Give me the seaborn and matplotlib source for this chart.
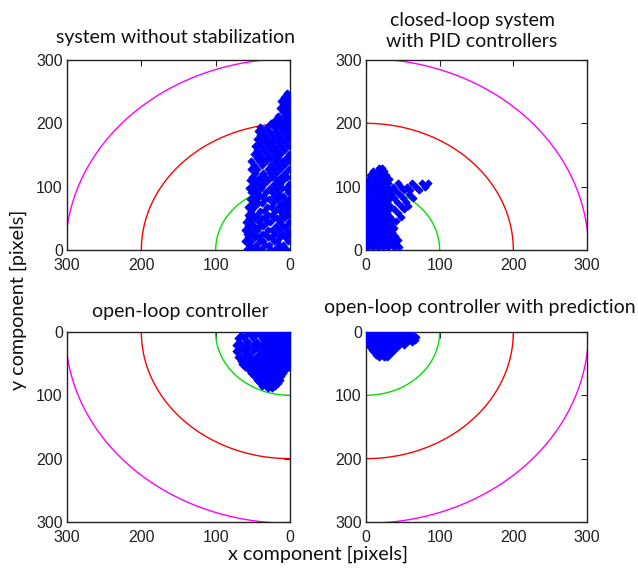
import numpy as np
import pandas as pd
import matplotlib
matplotlib.use("Agg")
import matplotlib.pyplot as plt
import seaborn as sns

# ---------------- data ----------------
radii = [100, 200, 302]
circle_colors = ["#00e000", "#ff0000", "#ff00ff"]

# top-left: system without stabilization (y value -> list of x values)
tl_rows = {
    248: [4], 242: [8, 2], 236: [5, 12], 230: [9, 1], 224: [14, 6], 218: [3, 10],
    212: [7, 16, 1], 206: [12, 4, 20], 200: [2, 9, 18, 26], 194: [5, 14, 22, 31, 40],
    188: [1, 10, 19, 28, 36, 43], 182: [6, 15, 24, 33, 40], 176: [2, 11, 20, 29, 38, 45],
    170: [7, 16, 25, 34, 42], 164: [3, 12, 21, 30, 39, 47], 158: [8, 17, 26, 35, 44],
    152: [1, 13, 22, 31, 40, 49], 146: [6, 18, 27, 36, 45], 140: [3, 11, 20, 32, 42, 52],
    134: [8, 16, 25, 38, 48], 128: [2, 13, 22, 30, 44, 53], 122: [7, 19, 27, 36, 47],
    116: [4, 12, 24, 33, 41, 51], 110: [9, 17, 29, 38, 46, 54], 104: [1, 14, 22, 35, 43, 50],
    98: [6, 11, 19, 27, 39, 48, 55], 92: [3, 16, 24, 32, 44, 52], 86: [9, 13, 21, 36, 41, 49],
    80: [2, 7, 18, 28, 33, 46, 54], 74: [5, 12, 23, 38, 43, 51], 68: [1, 9, 16, 26, 31, 48, 56],
    62: [6, 14, 20, 35, 40, 53], 56: [3, 11, 24, 29, 45, 50, 57], 50: [8, 17, 22, 33, 38, 47, 55],
    44: [2, 13, 27, 31, 42, 52, 59], 38: [6, 10, 19, 36, 40, 49, 57], 32: [4, 15, 24, 29, 45, 54, 60],
    26: [1, 9, 20, 33, 38, 50, 58], 20: [7, 13, 25, 30, 43, 47, 56], 14: [3, 17, 22, 36, 41, 52, 60],
    8: [10, 15, 28, 33, 46, 55], 2: [5, 12, 20, 27, 39, 44, 51, 58],
}
# top-right: closed-loop system with PID controllers
tr_rows = {
    130: [18, 22], 124: [10, 16, 24], 118: [6, 13, 20, 27], 112: [4, 11, 18, 25, 31],
    106: [2, 9, 16, 23, 30, 44, 62, 76, 84], 100: [1, 7, 14, 21, 28, 36, 48, 56, 68, 80],
    94: [3, 10, 17, 24, 31, 40, 52, 60, 72], 88: [1, 6, 13, 20, 27, 34, 45, 58],
    82: [4, 11, 18, 25, 32, 38, 50, 64], 76: [2, 8, 15, 22, 29, 42, 54],
    70: [1, 6, 12, 19, 26, 33, 47, 57], 64: [3, 10, 17, 24, 31, 38, 52],
    58: [1, 7, 14, 21, 28, 44], 52: [4, 11, 18, 25, 33, 48], 46: [2, 8, 15, 22, 29, 36, 41],
    40: [1, 5, 12, 19, 26, 34], 34: [3, 9, 16, 23, 30, 38], 28: [1, 6, 13, 20, 27, 35],
    22: [4, 10, 17, 24, 32, 40], 16: [2, 8, 14, 21, 29, 37, 43], 10: [1, 5, 12, 18, 26, 34, 41],
    4: [3, 9, 16, 23, 30, 38, 45],
}
# bottom-left: open-loop controller
bl_rows = {
    0: [2, 8, 14, 20, 26, 32, 38, 44, 50, 56], 5: [1, 5, 11, 17, 23, 29, 35, 41, 47, 53, 59, 66],
    10: [3, 8, 14, 20, 26, 32, 38, 50, 62, 70], 15: [1, 6, 11, 17, 23, 29, 35, 44, 56, 68],
    20: [3, 9, 14, 20, 26, 32, 39, 50, 62, 72], 25: [1, 6, 12, 17, 23, 29, 35, 44, 56, 67],
    30: [3, 9, 15, 20, 26, 32, 38, 50, 62, 72], 35: [1, 6, 12, 18, 23, 29, 35, 42, 56, 68],
    40: [3, 9, 15, 21, 26, 32, 38, 46, 52, 62, 70], 45: [1, 6, 12, 18, 24, 30, 36, 42, 48, 56, 66],
    50: [3, 9, 15, 21, 27, 33, 39, 45, 51, 60, 64], 55: [2, 8, 13, 19, 25, 31, 37, 43, 49, 57, 61],
    60: [7, 12, 18, 24, 30, 36, 42, 48, 55], 65: [10, 15, 21, 27, 33, 39, 45, 52],
    70: [12, 18, 24, 30, 36, 42, 49], 75: [13, 19, 25, 31, 37, 44], 80: [16, 22, 28, 34, 40],
    85: [20, 26, 32, 38], 88: [24, 30],
}
# bottom-right: open-loop controller with prediction
br_rows = {
    0: [2, 8, 14, 20, 26, 32, 38, 44, 50, 56], 4: [1, 5, 11, 17, 23, 29, 35, 41, 47, 53, 59, 64],
    8: [2, 8, 14, 20, 26, 32, 38, 44, 50, 56, 62, 68], 12: [1, 5, 11, 17, 23, 29, 35, 41, 47, 53, 59, 66],
    16: [2, 8, 14, 20, 26, 32, 38, 44, 50, 56, 62], 20: [4, 9, 15, 21, 27, 33, 39, 45, 52],
    24: [6, 12, 18, 24, 30, 36, 42], 28: [8, 14, 20, 26, 32, 38], 32: [11, 17, 23, 29, 35],
    36: [14, 20, 26, 31], 40: [18, 24, 29],
}

titles = ["system without stabilization", "closed-loop system\nwith PID controllers",
          "open-loop controller", "open-loop controller with prediction"]
ticks = [0, 100, 200, 300]


def rows_to_df(rows):
    xs, ys = [], []
    for yv, xl in rows.items():
        for xv in xl:
            xs.append(xv)
            ys.append(yv)
    return pd.DataFrame({"x": xs, "y": ys})


# ---------------- figure ----------------
sns.set_theme(style="white")
plt.rcParams["font.family"] = ["Liberation Sans", "DejaVu Sans"]

W, H = 638, 569
fig = plt.figure(figsize=(W / 100, H / 100), dpi=100)


def rect(l, t, r, b):
    return [l / W, 1 - b / H, (r - l) / W, (b - t) / H]


axes_rects = [rect(67, 60, 290, 250), rect(366, 60, 587, 250),
              rect(67, 332, 290, 522), rect(366, 332, 587, 522)]
datas = [tl_rows, tr_rows, bl_rows, br_rows]
invert_x = [True, False, True, False]
invert_y = [False, False, True, True]

theta = np.linspace(0, np.pi / 2, 400)
for i in range(4):
    ax = fig.add_axes(axes_rects[i])
    for r, c in zip(radii, circle_colors):
        sns.lineplot(x=r * np.cos(theta), y=r * np.sin(theta), sort=False,
                     estimator=None, color=c, lw=1.0, ax=ax)
    df = rows_to_df(datas[i])
    sns.scatterplot(data=df, x="x", y="y", marker="D", color="#0000ff",
                    edgecolor="#0000ff", linewidth=0.5, s=14, ax=ax, zorder=3)
    ax.set_xlim(0, 300)
    ax.set_ylim(0, 300)
    if invert_x[i]:
        ax.invert_xaxis()
    if invert_y[i]:
        ax.invert_yaxis()
    ax.set_xticks(ticks)
    ax.set_yticks(ticks)
    ax.set_xlabel("")
    ax.set_ylabel("")
    ax.tick_params(direction="in", length=4, width=0.8, colors="#222222",
                   labelsize=11.5, top=True, right=True)
    ax.tick_params(axis="x", pad=6)
    ax.tick_params(axis="y", pad=3)
    for s in ax.spines.values():
        s.set_color("#222222")
        s.set_linewidth(1.0)

title_pos = [(175, 38), (472, 31), (180, 311), (480, 307)]
for (tx, ty), t in zip(title_pos, titles):
    fig.text(tx / W, 1 - ty / H, t, ha="center", va="center", fontsize=14,
             family=["Lato", "DejaVu Sans"], color="#111111", linespacing=1.25)

fig.text(318 / W, 1 - 554 / H, "x component [pixels]", ha="center", va="center",
         fontsize=14.2, family=["Lato", "DejaVu Sans"], color="#111111")
fig.text(18 / W, 1 - 300 / H, "y component [pixels]", ha="center", va="center",
         rotation=90, fontsize=14.2, family=["Lato", "DejaVu Sans"], color="#111111")

fig.savefig("out.png", dpi=100)
